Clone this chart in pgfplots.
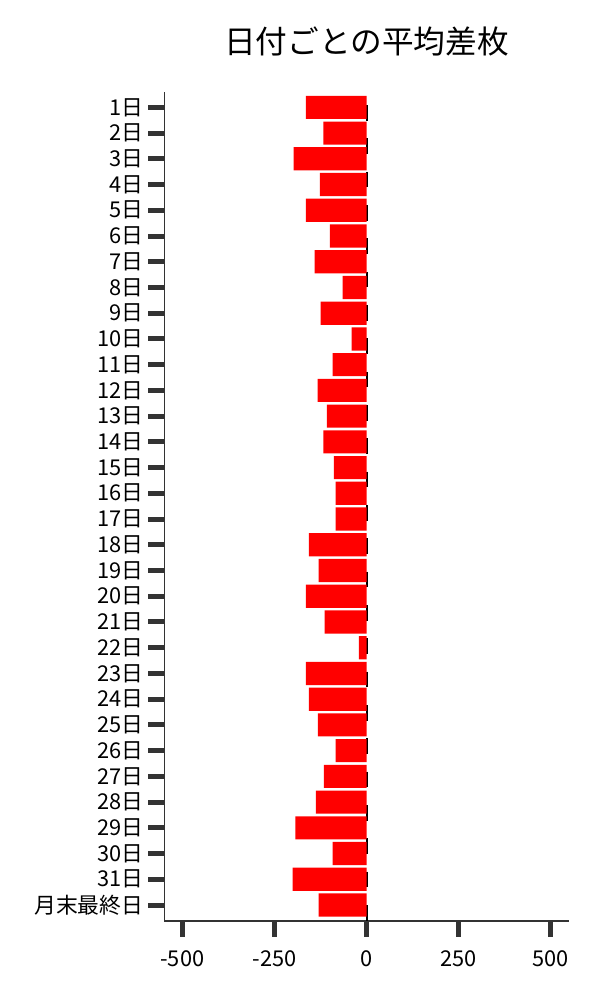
\documentclass[border=0pt]{standalone}
\usepackage{fontspec}
\setmainfont{Noto Sans CJK JP}
\usepackage{pgfplots}
\pgfplotsset{compat=1.18}
\definecolor{spine}{HTML}{333333}

\begin{document}
\begin{tikzpicture}
\begin{axis}[
    at={(0,0)}, anchor=south west,
    scale only axis,
    width=291.4pt, height=596.7pt,
    xmin=-549, xmax=549,
    ymin=-0.583, ymax=31.62,
    y dir=reverse,
    axis x line*=bottom, axis y line*=left,
    axis line style={spine, line width=0.8pt, -},
    xtick={-500,-250,0,250,500},
    ytick={0,...,31},
    yticklabels={1日,2日,3日,4日,5日,6日,7日,8日,9日,10日,11日,12日,13日,14日,15日,16日,
        17日,18日,19日,20日,21日,22日,23日,24日,25日,26日,27日,28日,29日,30日,31日,月末最終日},
    tick align=outside,
    major tick length=11.5pt,
    tick style={spine, line width=3.6pt},
    tick label style={font=\fontsize{15.7}{19}\selectfont},
    xticklabel style={yshift=-6.5pt},
    /pgf/number format/assume math mode=true,
    title={日付ごとの平均差枚},
    title style={font=\fontsize{22.8}{27}\selectfont, at={(0.5,1)}, anchor=center, inner sep=0pt, yshift=30.5pt},
]
% reference line at zero, mostly hidden by the bars
\addplot[black, line width=1.5pt, dash pattern=on 11.3pt off 12.7pt, dash phase=14.8pt]
    coordinates {(0,-0.583) (0,31.62)};
\addplot[xbar, bar width=0.9, fill=red, draw=none] coordinates {
    (-165,0) (-117,1) (-198,2) (-127,3) (-165,4) (-100,5) (-141,6) (-65,7)
    (-125,8) (-41,9) (-92,10) (-133,11) (-108,12) (-117,13) (-89,14) (-84,15)
    (-84,16) (-157,17) (-130,18) (-165,19) (-114,20) (-21,21) (-165,22) (-157,23)
    (-132,24) (-84,25) (-116,26) (-138,27) (-193,28) (-92,29) (-201,30) (-130,31)
};
\end{axis}
\path (-118.3pt,-56.9pt) rectangle (313.7pt,663.2pt);
\end{tikzpicture}
\end{document}
